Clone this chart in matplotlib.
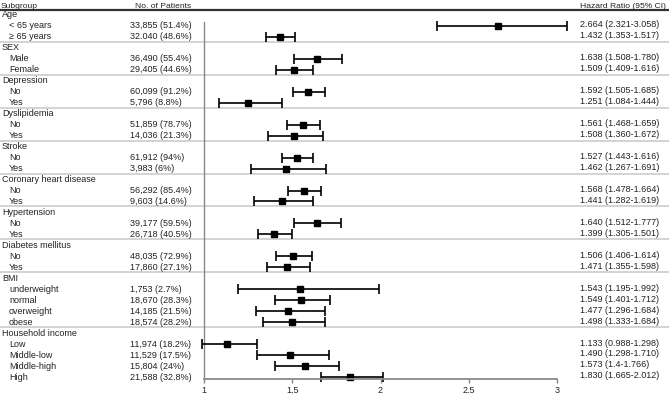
import numpy as np
import matplotlib
matplotlib.use('Agg')
from matplotlib import pyplot as plt
from matplotlib.transforms import blended_transform_factory

plt.rcParams['font.family'] = ['Liberation Sans', 'DejaVu Sans']

# data
groups = ["Age", "SEX", "Depression", "Dyslipidemia", "Stroke",
          "Coronary heart disease", "Hypertension", "Diabetes mellitus",
          "BMI", "Household income"]
subgroups = [
    ["< 65 years", "\u2265 65 years"],
    ["Male", "Female"],
    ["No", "Yes"],
    ["No", "Yes"],
    ["No", "Yes"],
    ["No", "Yes"],
    ["No", "Yes"],
    ["No", "Yes"],
    ["underweight", "normal", "overweight", "obese"],
    ["Low", "Middle-low", "Middle-high", "High"],
]
patients = [
    ["33,855 (51.4%)", "32.040 (48.6%)"],
    ["36,490 (55.4%)", "29,405 (44.6%)"],
    ["60,099 (91.2%)", "5,796 (8.8%)"],
    ["51,859 (78.7%)", "14,036 (21.3%)"],
    ["61,912 (94%)", "3,983 (6%)"],
    ["56,292 (85.4%)", "9,603 (14.6%)"],
    ["39,177 (59.5%)", "26,718 (40.5%)"],
    ["48,035 (72.9%)", "17,860 (27.1%)"],
    ["1,753 (2.7%)", "18,670 (28.3%)", "14,185 (21.5%)", "18,574 (28.2%)"],
    ["11,974 (18.2%)", "11,529 (17.5%)", "15,804 (24%)", "21,588 (32.8%)"],
]
hr = [
    ["2.664", "1.432"], ["1.638", "1.509"], ["1.592", "1.251"],
    ["1.561", "1.508"], ["1.527", "1.462"], ["1.568", "1.441"],
    ["1.640", "1.399"], ["1.506", "1.471"],
    ["1.543", "1.549", "1.477", "1.498"],
    ["1.133", "1.490", "1.573", "1.830"],
]
ci_low = [
    ["2.321", "1.353"], ["1.508", "1.409"], ["1.505", "1.084"],
    ["1.468", "1.360"], ["1.443", "1.267"], ["1.478", "1.282"],
    ["1.512", "1.305"], ["1.406", "1.355"],
    ["1.195", "1.401", "1.296", "1.333"],
    ["0.988", "1.298", "1.4", "1.665"],
]
ci_high = [
    ["3.058", "1.517"], ["1.780", "1.616"], ["1.685", "1.444"],
    ["1.659", "1.672"], ["1.616", "1.691"], ["1.664", "1.619"],
    ["1.777", "1.501"], ["1.614", "1.598"],
    ["1.992", "1.712", "1.684", "1.684"],
    ["1.298", "1.710", "1.766", "2.012"],
]
xticks = [1, 1.5, 2, 2.5, 3]
xticklabels = ["1", "1.5", "2", "2.5", "3"]

W, H = 669, 399
fig = plt.figure(figsize=(W / 100, H / 100), dpi=100)
ax = fig.add_axes([204 / W, 20 / H, 353 / W, 379 / H])
trans = blended_transform_factory(fig.transFigure, ax.transData)

fs = 6.5
hfs = 6.1
tc = '#222222'

# header
ax.text(1 / W, 0.22, "Subgroup", transform=trans, fontsize=hfs, color=tc, va='center')
ax.text(135 / W, 0.22, "No. of Patients", transform=trans, fontsize=hfs, color=tc, va='center')
ax.text(580 / W, 0.22, "Hazard Ratio (95% CI)", transform=trans, fontsize=hfs, color=tc, va='center')
ax.plot([0, 1], [0.58, 0.58], transform=trans, color='#333333', lw=1.6, clip_on=False)

row = 1
ys, xs, los, his = [], [], [], []
for g, subs, ns, h, lo, hi in zip(groups, subgroups, patients, hr, ci_low, ci_high):
    ax.text(2 / W, row, g, transform=trans, fontsize=fs, color=tc, va='center')
    row += 1
    for s, n, hh, l, u in zip(subs, ns, h, lo, hi):
        ax.text(9 / W, row, s, transform=trans, fontsize=fs, color=tc, va='center')
        ax.text(130 / W, row, n, transform=trans, fontsize=fs, color=tc, va='center')
        ax.text(580 / W, row - 0.1, f"{hh} ({l}-{u})", transform=trans,
                fontsize=fs, color=tc, va='center')
        ys.append(row)
        xs.append(float(hh))
        los.append(float(l))
        his.append(float(u))
        row += 1
    if g != groups[-1]:
        ax.plot([0, 1], [row - 0.55, row - 0.55], transform=trans,
                color='#cccccc', lw=1.2, clip_on=False)

xs = np.array(xs)
los = np.array(los)
his = np.array(his)

last = row - 1
ax.set_ylim(last + 0.18, -0.367)
ax.set_xlim(1, 3)

# reference line at HR = 1
ax.plot([1, 1], [1.64, last + 0.18], color='#888888', lw=1.0, clip_on=False)

cont = ax.errorbar(xs, ys, xerr=[xs - los, his - xs], fmt='s', color='black',
                   ms=4.7, capsize=3.3, elinewidth=1.2, capthick=1.2)
for art in [cont.lines[0], *cont.lines[1], *cont.lines[2]]:
    art.set_clip_on(False)

for side in ['top', 'right', 'left']:
    ax.spines[side].set_visible(False)
ax.spines['bottom'].set_color('#888888')
ax.spines['bottom'].set_linewidth(1.3)
ax.set_yticks([])
ax.set_xticks(xticks)
ax.set_xticklabels(xticklabels)
ax.tick_params(axis='x', length=3, width=1, color='#888888', labelsize=fs,
               labelcolor=tc, pad=2)
ax.patch.set_visible(False)

fig.savefig('out.png', dpi=100)
